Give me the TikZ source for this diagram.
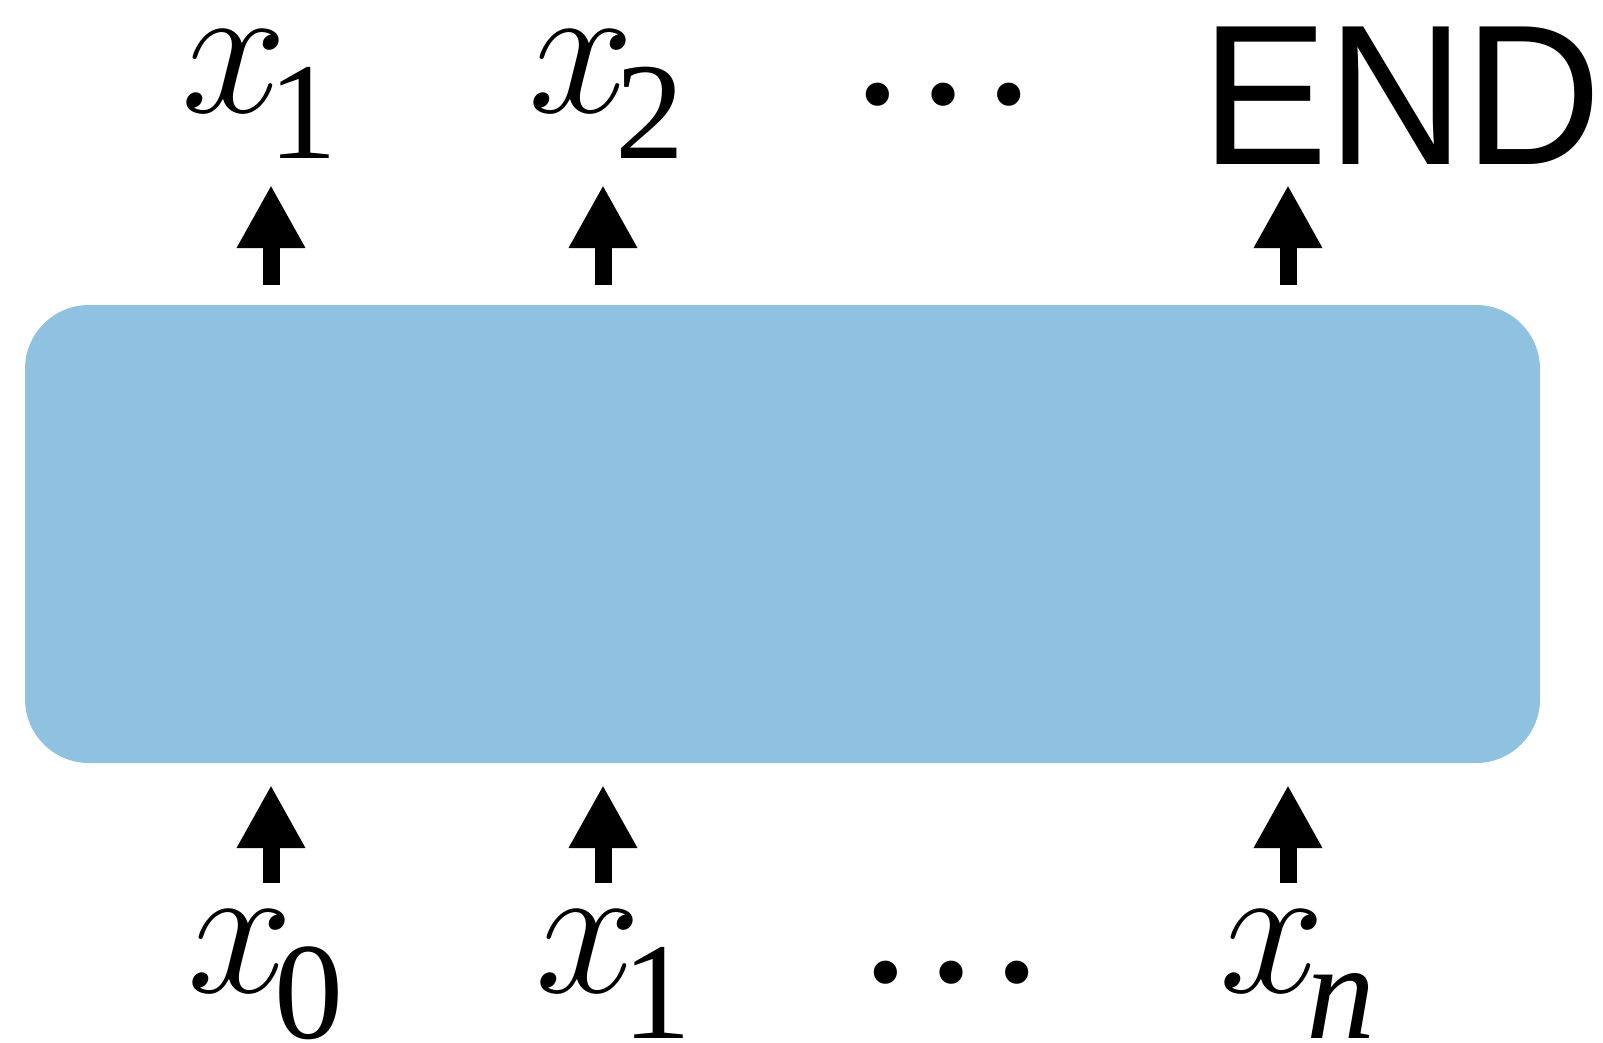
\documentclass[tikz,border=0pt]{standalone}
\usepackage{fix-cm}
\usepackage{fontspec}
\usepackage{graphicx}
\setmainfont{Liberation Serif}
\newfontfamily\endfont{Liberation Sans}
\usetikzlibrary{arrows.meta}
\definecolor{boxblue}{RGB}{143,193,224}
\newcommand{\bigsz}{\fontsize{196}{200}\selectfont}
\newcommand{\xsz}{\fontsize{190}{200}\selectfont}
\newcommand{\subsz}{\fontsize{138}{140}\selectfont}
\newcommand{\xsub}[1]{{\xsz$x$}\kern-18pt\raisebox{-46pt}{\subsz #1}}
\tikzset{
  lab/.style={inner sep=0pt, outer sep=0pt, anchor=base west},
  dotlab/.style={inner sep=0pt, outer sep=0pt, anchor=base, font=\bigsz},
  bigarrow/.style={line width=17pt, -{Triangle[width=64pt,length=63pt]}},
  box/.style={fill=boxblue, draw=none, rounded corners=64pt, minimum width=1515pt, minimum height=458pt, inner sep=0pt}
}
\begin{document}
\begin{tikzpicture}[x=1pt,y=-1pt]
\useasboundingbox (0,0) rectangle (1603,1042);
\node[box] (box) at (782.5,534) {};
% top labels
\node[lab] (o1) at (181,112) {\xsub{1}};
\node[lab] (o2) at (528,112) {\xsub{2}};
\node[dotlab] (odots) at (943,103) {…};
\node[lab, font=\endfont\fontsize{200}{210}\selectfont] (oend) at (1201,164.5) {\scalebox{0.95}[1]{END}};
% bottom labels
\node[lab] (i0) at (187,992) {\xsub{0}};
\node[lab] (i1) at (535,992) {\xsub{1}};
\node[dotlab] (idots) at (951,981) {…};
\node[lab] (in) at (1219,992) {\xsub{\itshape n}};
% arrow coordinates
\coordinate (t1s) at (271,285); \coordinate (t1e) at (271,185);
\coordinate (t2s) at (603,285); \coordinate (t2e) at (603,185);
\coordinate (t3s) at (1288,285); \coordinate (t3e) at (1288,185);
\coordinate (b1s) at (271,883); \coordinate (b1e) at (271,785);
\coordinate (b2s) at (603,883); \coordinate (b2e) at (603,785);
\coordinate (b3s) at (1288,883); \coordinate (b3e) at (1288,785);
\draw[bigarrow] (t1s) -- (t1e);
\draw[bigarrow] (t2s) -- (t2e);
\draw[bigarrow] (t3s) -- (t3e);
\draw[bigarrow] (b1s) -- (b1e);
\draw[bigarrow] (b2s) -- (b2e);
\draw[bigarrow] (b3s) -- (b3e);
\end{tikzpicture}
\end{document}
